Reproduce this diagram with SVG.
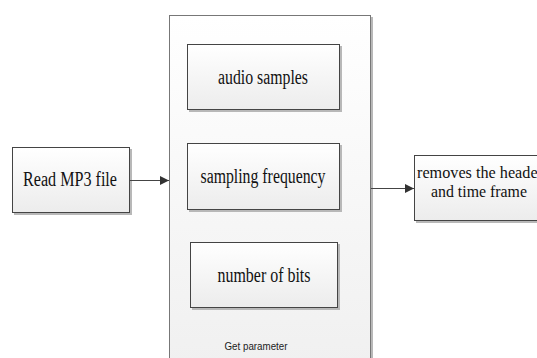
<svg xmlns="http://www.w3.org/2000/svg" width="537" height="358" viewBox="0 0 537 358">
<defs>
<linearGradient id="g" x1="0" y1="0" x2="0" y2="1">
<stop offset="0" stop-color="#ffffff"/>
<stop offset="1" stop-color="#ececec"/>
</linearGradient>
<linearGradient id="gc" x1="0" y1="0" x2="0" y2="1">
<stop offset="0" stop-color="#ffffff"/>
<stop offset="1" stop-color="#f0f0f0"/>
</linearGradient>
<marker id="arr" viewBox="0 0 10 10" refX="10" refY="5" markerWidth="9" markerHeight="9" markerUnits="userSpaceOnUse" orient="auto">
<path d="M0,0 L10,5 L0,10 Z" fill="#333"/>
</marker>
</defs>
<style>
.box{fill:url(#g);stroke:#444;stroke-width:1}
.sh{fill:#b8b8b8}
.t{font-family:'Liberation Serif','Times New Roman',serif;font-size:20px;fill:#111;text-anchor:middle}
.t2{font-family:'Liberation Serif','Times New Roman',serif;font-size:17px;fill:#111;text-anchor:middle}
.s{font-family:'Liberation Sans',Arial,sans-serif;font-size:11px;fill:#222;text-anchor:middle}
.c{stroke:#444;stroke-width:1.2;fill:none}
</style>
<rect width="537" height="358" fill="#fff"/>
<g id="container">
<rect class="sh" x="171" y="17" width="202" height="345"/>
<rect x="169.5" y="15.5" width="201" height="350" fill="url(#gc)" stroke="#777"/>
<text class="s" x="256" y="350" textLength="63" lengthAdjust="spacingAndGlyphs">Get parameter</text>
</g>
<g id="audio">
<rect class="sh" x="189" y="46" width="153" height="66"/>
<rect class="box" x="187.5" y="44.5" width="152" height="65"/>
<text class="t" x="263" y="84" textLength="90" lengthAdjust="spacingAndGlyphs">audio samples</text>
</g>
<g id="freq">
<rect class="sh" x="189" y="145" width="153" height="67"/>
<rect class="box" x="187.5" y="143.5" width="152" height="66"/>
<text class="t" x="263" y="183" textLength="125" lengthAdjust="spacingAndGlyphs">sampling frequency</text>
</g>
<g id="bits">
<rect class="sh" x="192" y="244" width="148" height="66"/>
<rect class="box" x="190.5" y="242.5" width="147" height="65"/>
<text class="t" x="264" y="282" textLength="93" lengthAdjust="spacingAndGlyphs">number of bits</text>
</g>
<g id="read">
<rect class="sh" x="14" y="149" width="118" height="66"/>
<rect class="box" x="12.5" y="147.5" width="117" height="65"/>
<text class="t" x="70" y="186" textLength="94" lengthAdjust="spacingAndGlyphs">Read MP3 file</text>
</g>
<g id="removes">
<rect class="sh" x="416" y="157" width="130" height="66"/>
<rect class="box" x="414.5" y="155.5" width="130" height="65"/>
<text class="t2" x="480" y="178" textLength="126" lengthAdjust="spacingAndGlyphs">removes the header</text>
<text class="t2" x="479" y="197" textLength="96" lengthAdjust="spacingAndGlyphs">and time frame</text>
</g>
<g id="connectors">
<line class="c" x1="130" y1="180.5" x2="169" y2="180.5" marker-end="url(#arr)"/>
<line class="c" x1="371" y1="188.5" x2="414" y2="188.5" marker-end="url(#arr)"/>
</g>
</svg>
